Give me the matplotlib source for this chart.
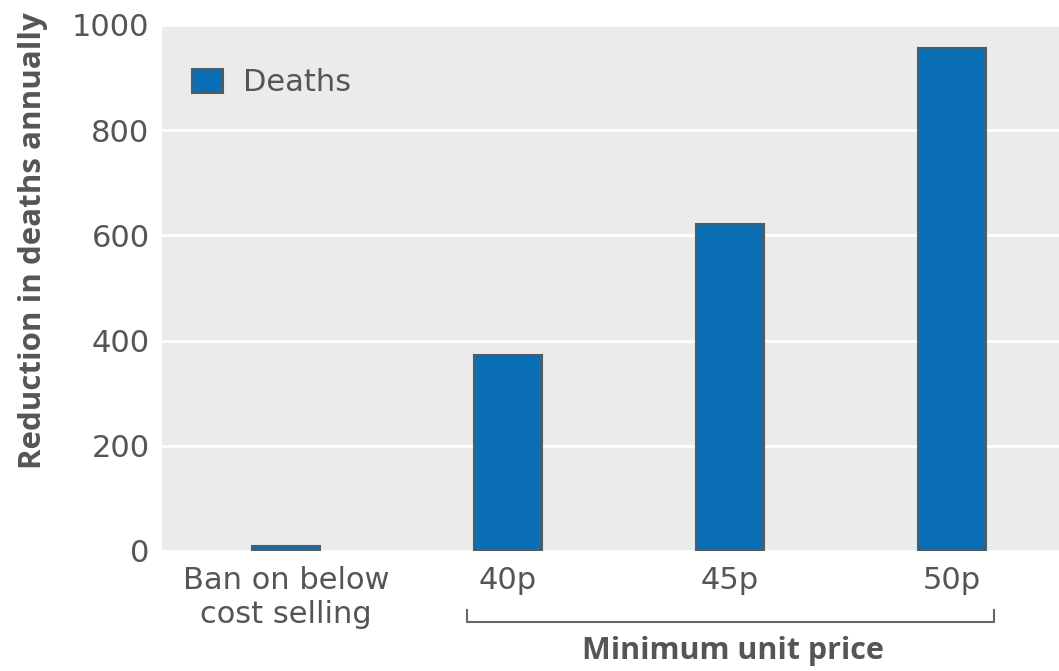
import matplotlib
matplotlib.use("Agg")
import matplotlib.pyplot as plt

categories = ["Ban on below\ncost selling", "40p", "45p", "50p"]
deaths = [10, 372, 622, 956]
yticks = [0, 200, 400, 600, 800, 1000]

plt.rcParams['font.family'] = ['DejaVu Sans']
text_col = "#555555"
bold_fam = ['Open Sans', 'DejaVu Sans']

fig = plt.figure(figsize=(10.59, 6.71), dpi=100)
ax = fig.add_axes([162/1059, 1 - 551/671, (1059-162)/1059, 526/671])
ax.set_facecolor("#ebebeb")
x = list(range(len(categories)))
ax.bar(x, deaths, width=0.306, color="#0a6eb4", edgecolor="#5a5a5a", linewidth=1.5,
       label="Deaths", zorder=3)
ax.set_xlim(-0.559, 3.482)
ax.set_ylim(0, 1000)
ax.set_yticks(yticks)
ax.set_yticklabels([str(v) for v in yticks], fontsize=22, color=text_col)
ax.set_xticks(x)
ax.set_xticklabels(categories, fontsize=22, color=text_col, linespacing=1.2)
ax.tick_params(axis='y', length=0, pad=9)
ax.tick_params(axis='x', length=0, pad=11)
ax.grid(axis='y', color='white', linewidth=2, zorder=1)
for s in ax.spines.values():
    s.set_visible(False)
ax.set_ylabel("Reduction in deaths annually", fontsize=22.5, fontweight='bold',
              family=bold_fam, color=text_col, va='center')
ax.yaxis.set_label_coords((33 - 162) / 897, (551 - 241) / 526)

leg = ax.legend(loc='upper left', bbox_to_anchor=(0.003, 0.97), frameon=False,
                fontsize=22, handlelength=1.0, handleheight=0.85, handletextpad=0.65)
for t in leg.get_texts():
    t.set_color(text_col)

# bracket for minimum unit price
bx0, bx1 = 467/1059, 994/1059
by = 1 - 622/671
bt = 1 - 610/671
fig.add_artist(plt.Line2D([bx0, bx0, bx1, bx1], [bt, by, by, bt],
                          transform=fig.transFigure, color="#666666", linewidth=1.5))
fig.text(733/1059, 1 - 651/671, "Minimum unit price", ha='center', va='center',
         fontsize=22, fontweight='bold', family=bold_fam, color=text_col)

fig.savefig("out.png", dpi=100)
